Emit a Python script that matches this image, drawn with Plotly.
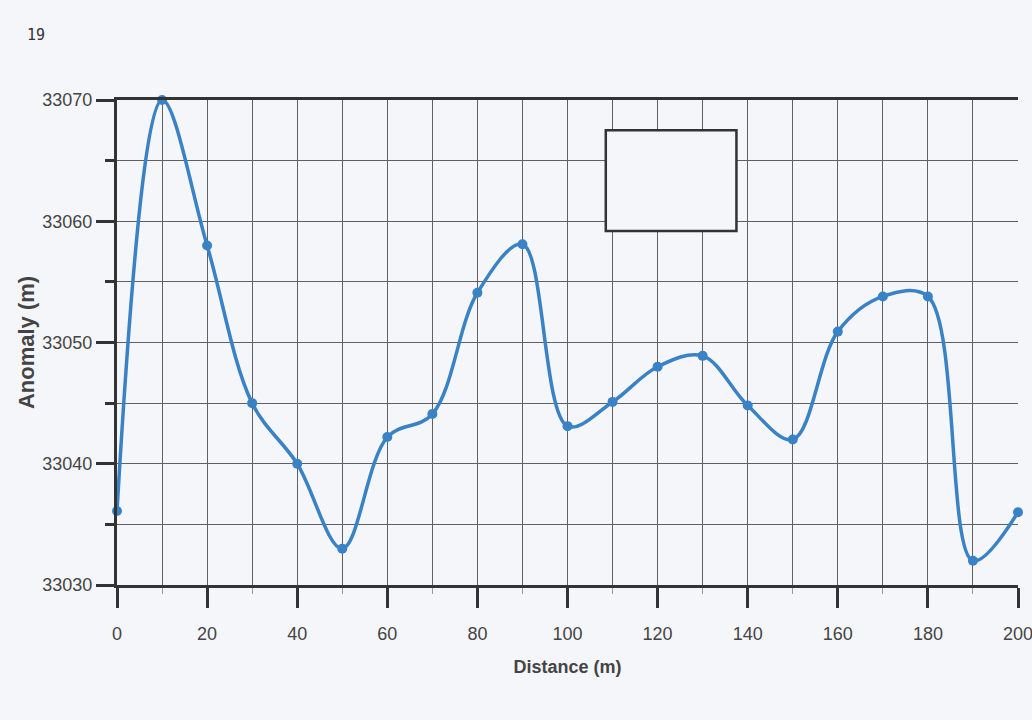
import plotly.graph_objects as go

distance = [0, 10, 20, 30, 40, 50, 60, 70, 80, 90, 100, 110, 120, 130, 140, 150, 160, 170, 180, 190, 200]
anomaly = [33036.1, 33070, 33058, 33045, 33040, 33033, 33042.2, 33044.1, 33054.1, 33058.1,
           33043.1, 33045.1, 33048, 33048.9, 33044.8, 33042, 33050.9, 33053.8, 33053.8, 33032, 33036]
x_ticks = [0, 20, 40, 60, 80, 100, 120, 140, 160, 180, 200]
y_ticks = [33030, 33040, 33050, 33060, 33070]

BG = "#f4f6fa"
AX = "#333333"
GRID = "#606060"
BLUE = "#3a82c6"

fig = go.Figure()
fig.add_trace(go.Scatter(
    x=distance, y=anomaly, mode="lines+markers",
    line=dict(color=BLUE, width=3.5, shape="spline", smoothing=1),
    marker=dict(color=BLUE, size=10),
    showlegend=False, cliponaxis=False,
))

fig.update_layout(
    width=1032, height=720,
    margin=dict(l=117, r=14, t=100, b=135, autoexpand=False),
    paper_bgcolor=BG, plot_bgcolor=BG,
    font=dict(family="Liberation Sans, Arial, sans-serif", color="#444444"),
    xaxis=dict(
        range=[0, 200], tickvals=x_ticks, ticktext=[str(v) for v in x_ticks],
        ticks="outside", ticklen=20, tickwidth=3, tickcolor=AX,
        showline=True, linewidth=3, linecolor=AX, mirror=True,
        showgrid=True, gridcolor=GRID, gridwidth=1,
        minor=dict(dtick=10, showgrid=True, gridcolor=GRID, gridwidth=1,
                   ticks="outside", ticklen=6, tickwidth=1, tickcolor="#999999"),
        tickfont=dict(size=18, color="#444444"),
        ticklabelstandoff=10, ticklabeloverflow="allow",
        zeroline=False, automargin=False,
        title=dict(text="<b>Distance (m)</b>", font=dict(size=18, color="#444444"), standoff=18),
    ),
    yaxis=dict(
        range=[33030, 33070], tickvals=y_ticks, ticktext=[str(v) for v in y_ticks],
        ticks="outside", ticklen=18, tickwidth=3, tickcolor=AX,
        showline=True, linewidth=3, linecolor=AX,
        showgrid=True, gridcolor=GRID, gridwidth=1,
        minor=dict(dtick=5, showgrid=True, gridcolor=GRID, gridwidth=1,
                   ticks="outside", ticklen=9, tickwidth=3, tickcolor=AX),
        tickfont=dict(size=18, color="#444444"),
        ticklabelstandoff=0,
        zeroline=False, automargin=False,
        title=dict(text="<b>Anomaly (m)</b>", font=dict(size=22, color="#444444"), standoff=2),
    ),
)

# extension of the y axis line below the x axis
fig.add_shape(type="line", xref="x", yref="paper", x0=0, x1=0, y0=-0.047, y1=0,
              line=dict(color=AX, width=3))
# empty box drawn on the chart
fig.add_shape(type="rect", xref="x", yref="y", x0=108.5, x1=137.5, y0=33059.2, y1=33067.5,
              line=dict(color=AX, width=2.5), fillcolor=BG, layer="above")
# page number
fig.add_annotation(text="19", xref="paper", yref="paper", x=-0.102, y=1.134,
                   showarrow=False, xanchor="left", yanchor="middle",
                   font=dict(family="DejaVu Sans Mono", size=15, color="#333333"))

fig.write_html("out.html", config={"displayModeBar": False},
               post_script="document.body.style.margin='0';document.body.style.background='%s';" % BG)
